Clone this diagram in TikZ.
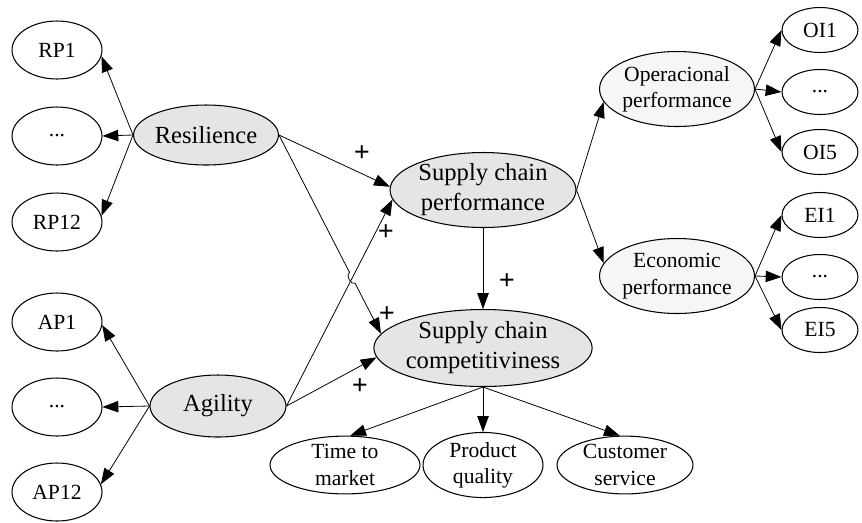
\documentclass[tikz,border=0pt]{standalone}
\usepackage{fontspec}
\setmainfont{Liberation Serif}
\usetikzlibrary{shapes.geometric,arrows.meta,calc,intersections}

\tikzstyle{construct}=[draw,ellipse,fill=gray!20,line width=0.6pt,
    inner sep=0pt,align=center,font=\fontsize{14}{17}\selectfont]
\tikzstyle{dimension}=[construct,fill=gray!7,
    font=\fontsize{12.3}{15}\selectfont]
\tikzstyle{indicator}=[draw,ellipse,fill=white,line width=0.6pt,
    inner sep=0pt,align=center,font=\fontsize{12.3}{15}\selectfont]
\tikzstyle{relation}=[line width=0.45pt,-{Triangle[length=9pt,width=6.5pt]}]
\tikzstyle{sign}=[inner sep=0pt,font=\bfseries\fontsize{16}{16}\selectfont]
\newcommand{\measure}[4][1.8cm]{
    \node[indicator,minimum width=#1] at (#2) (#3) {#4};
}
\newcommand{\linkto}[3][]{\draw[relation,#1] (#2) -- (#3);}

\begin{document}
\begin{tikzpicture}[x=0.02cm,y=-0.02cm]
    \useasboundingbox (0,0) rectangle (862,522);
    %
    \node[construct,minimum width=2.7cm,minimum height=1.2cm] at (206,135) (Res) {Resilience};
    \node[construct,minimum width=2.72cm,minimum height=1.24cm] at (218,406) (Agi) {Agility};
    \node[construct,minimum width=3.72cm,minimum height=1.5cm] at (483,190) (SCP) {Supply chain\\performance};
    \node[construct,minimum width=3.92cm,minimum height=1.54cm] at (483,348) (SCC) {Supply chain\\competitiviness};
    \node[dimension,minimum width=3.1cm,minimum height=1.5cm] at (677,89) (Ope) {Operacional\\performance};
    \node[dimension,minimum width=3.1cm,minimum height=1.5cm] at (677,276) (Eco) {Economic\\performance};
    %
    \tikzset{indicator/.append style={minimum height=1.16cm}}
    \measure{57,50}{RP1}{RP1}
    \measure{57,136}{RPd}{...}
    \measure{57,222}{RP12}{RP12}
    \measure{57,322}{AP1}{AP1}
    \measure{57,407}{APd}{...}
    \measure{57,492}{AP12}{AP12}
    %
    \tikzset{indicator/.append style={minimum height=0.9cm}}
    \measure[1.52cm]{820,30}{OI1}{OI1}
    \measure[1.52cm]{820,92}{OId}{...}
    \measure[1.52cm]{820,152}{OI5}{OI5}
    \measure[1.52cm]{820,215}{EI1}{EI1}
    \measure[1.52cm]{820,277}{EId}{...}
    \measure[1.52cm]{820,330}{EI5}{EI5}
    %
    \tikzset{indicator/.append style={minimum height=1.14cm}}
    \measure[3.0cm]{345,465}{Time}{Time to\\market}
    \measure[2.4cm]{483,465}{Qual}{Product\\quality}
    \measure[2.72cm]{625,465}{Serv}{Customer\\service}
    %
    \linkto{Res.west}{RP1.-8}
    \linkto{Res.west}{RPd.east}
    \linkto{Res.west}{RP12.8}
    \linkto{Agi.west}{AP1.-4}
    \linkto{Agi.west}{APd.east}
    \linkto{Agi.west}{AP12.10}
    %
    \linkto{Res.east}{SCP.178}
    \linkto{Agi.east}{SCP.186}
    \linkto{Agi.east}{SCC.185}
    % crossing with a small hop
    \path[name path=agiscp] (Agi.east) -- (SCP.186);
    \path[name path=resscc] (Res.east) -- (SCC.172);
    \path[name intersections={of=agiscp and resscc,by=hop}];
    \draw[relation] (Res.east) -- ($(hop)!3.5pt!(Res.east)$)
        to[bend right=90] ($(hop)!3.5pt!(SCC.172)$) -- (SCC.172);
    %
    \linkto{SCP.south}{SCC.north}
    \linkto{SCP.east}{Ope.190}
    \linkto{SCP.east}{Eco.170}
    %
    \linkto{Ope.east}{OI1.west}
    \linkto{Ope.east}{OId.west}
    \linkto{Ope.east}{OI5.west}
    \linkto{Eco.east}{EI1.west}
    \linkto{Eco.east}{EId.west}
    \linkto{Eco.east}{EI5.west}
    %
    \linkto{SCC.south}{Time.80}
    \linkto{SCC.south}{Qual.north}
    \linkto{SCC.south}{Serv.100}
    %
    \node[sign] at (362,154) (sResSCP) {+};
    \node[sign] at (386,233) (sAgiSCP) {+};
    \node[sign] at (387,315) (sResSCC) {+};
    \node[sign] at (360,387) (sAgiSCC) {+};
    \node[sign] at (507,282) (sSCPSCC) {+};
\end{tikzpicture}
\end{document}
